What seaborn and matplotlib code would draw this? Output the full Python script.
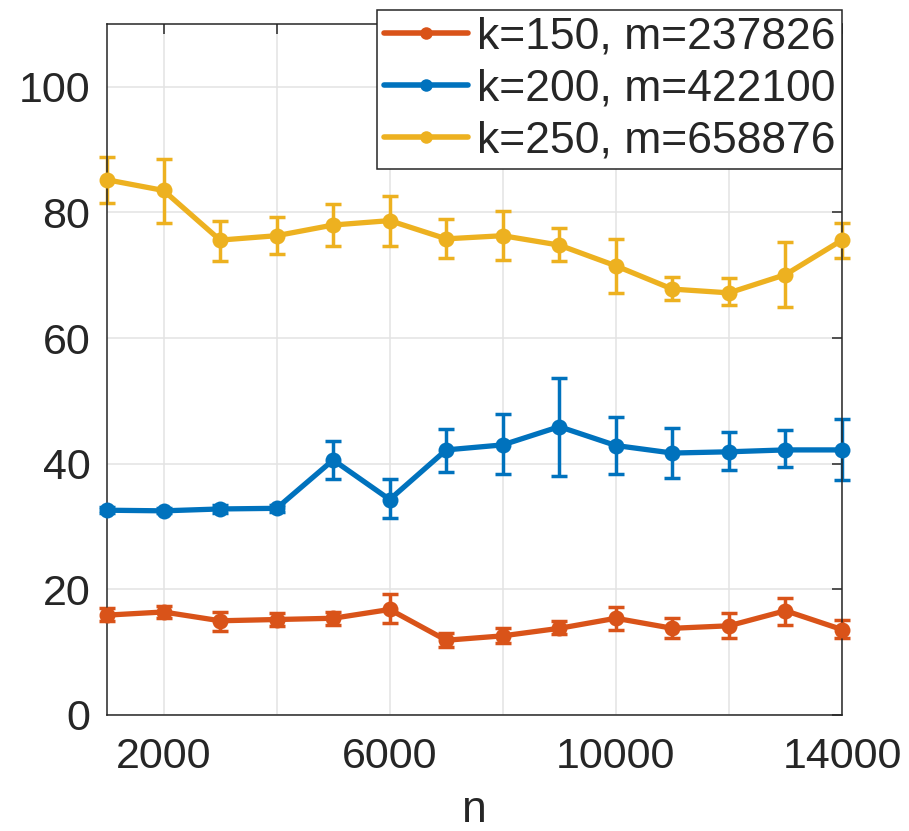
import numpy as np
import pandas as pd
import matplotlib
matplotlib.use("Agg")
import matplotlib.pyplot as plt
import seaborn as sns

# ---- data ----
n_values = [1000, 2000, 3000, 4000, 5000, 6000, 7000, 8000, 9000, 10000, 11000, 12000, 13000, 14000]
labels = ["k=150, m=237826", "k=200, m=422100", "k=250, m=658876"]

mean_k150 = [15.9, 16.4, 15.0, 15.2, 15.4, 16.8, 11.9, 12.6, 13.8, 15.4, 13.8, 14.2, 16.6, 13.6]
low_k150 = [14.9, 15.4, 13.3, 14.2, 14.4, 14.6, 10.8, 11.5, 12.9, 13.6, 12.2, 12.2, 14.3, 12.2]
high_k150 = [17.0, 17.4, 16.4, 16.2, 16.4, 19.2, 13.0, 13.8, 14.9, 17.2, 15.4, 16.2, 18.7, 15.1]

mean_k200 = [32.6, 32.5, 32.8, 32.9, 40.6, 34.3, 42.2, 43.0, 45.9, 42.9, 41.7, 41.9, 42.2, 42.2]
low_k200 = [32.1, 32.1, 32.2, 32.3, 37.5, 31.3, 38.7, 38.3, 38.1, 38.4, 37.8, 39.0, 39.4, 37.4]
high_k200 = [33.1, 32.9, 33.4, 33.5, 43.6, 37.5, 45.5, 47.9, 53.6, 47.4, 45.7, 45.0, 45.3, 47.1]

mean_k250 = [85.2, 83.5, 75.6, 76.3, 78.0, 78.7, 75.8, 76.3, 74.8, 71.5, 67.8, 67.2, 70.1, 75.6]
low_k250 = [81.5, 78.4, 72.3, 73.4, 74.7, 74.7, 72.8, 72.5, 72.2, 67.1, 66.0, 65.2, 65.0, 72.7]
high_k250 = [88.9, 88.5, 78.7, 79.3, 81.3, 82.6, 78.9, 80.3, 77.5, 75.7, 69.7, 69.5, 75.3, 78.4]

colors = ["#D95319", "#0072BD", "#EDB120"]

xticks = [2000, 4000, 6000, 8000, 10000, 12000, 14000]
xticklabels = ["2000", "", "6000", "", "10000", "", "14000"]
yticks = [0, 20, 40, 60, 80, 100]

means = [mean_k150, mean_k200, mean_k250]
lows = [low_k150, low_k200, low_k250]
highs = [high_k150, high_k200, high_k250]

rows = []
for lab, mv, lo, hi in zip(labels, means, lows, highs):
    for x, m, l, h in zip(n_values, mv, lo, hi):
        rows.append({"n": x, "value": m, "lo": l, "hi": h, "series": lab})
df = pd.DataFrame(rows)

# ---- plot ----
sns.set_theme(style="white")
plt.rcParams["font.family"] = ["Liberation Sans", "DejaVu Sans"]

fig = plt.figure(figsize=(9.09, 8.31), dpi=100)
ax = fig.add_axes([107 / 909, 1 - 715 / 831, (842 - 107) / 909, (715 - 24) / 831])

# error bars
for lab, col in zip(labels, colors):
    sub = df[df["series"] == lab]
    ax.errorbar(sub["n"], sub["value"],
                yerr=[sub["value"] - sub["lo"], sub["hi"] - sub["value"]],
                fmt="none", ecolor=col, elinewidth=2.5, capsize=6, capthick=2.5,
                zorder=2, clip_on=False)

sns.lineplot(data=df, x="n", y="value", hue="series", hue_order=labels,
             palette=colors, marker="o", markersize=11.5, markeredgewidth=0,
             linewidth=3.8, ax=ax, legend=True, zorder=3, clip_on=False)

ax.set_xlim(1000, 14000)
ax.set_ylim(0, 110)
ax.set_xticks(xticks)
ax.set_xticklabels(xticklabels)
ax.set_yticks(yticks)
ax.grid(True, color="#E3E3E3", linewidth=1.1)
ax.set_axisbelow(True)
ax.tick_params(axis="both", direction="in", length=7, width=1.1, colors="#262626",
               labelsize=31, top=True, right=True)
ax.tick_params(axis="x", pad=16)
ax.tick_params(axis="y", pad=12)
for s in ax.spines.values():
    s.set_color("#262626")
    s.set_linewidth(1.1)
ax.set_xlabel("n", fontsize=32, color="#262626", labelpad=9)
ax.set_ylabel("")

leg = ax.legend(loc="upper right", bbox_to_anchor=(1.0, 1.0 + 14 / 691),
                fontsize=32, frameon=True, fancybox=False, framealpha=1,
                edgecolor="#262626", handlelength=1.9, handletextpad=0.2,
                labelspacing=0.25, borderpad=0.15, borderaxespad=0.0)
leg.get_frame().set_linewidth(1.1)
for h in leg.get_lines():
    h.set_linewidth(4)
    h.set_markersize(9)

fig.savefig("out.png", dpi=100)
